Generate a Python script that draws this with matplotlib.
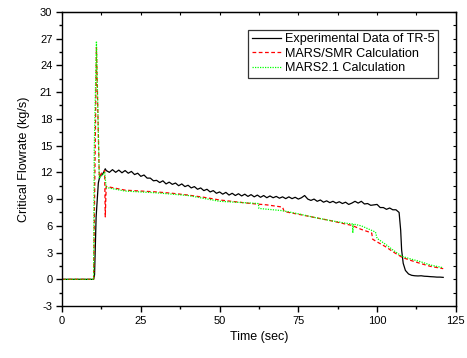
import matplotlib
matplotlib.use("Agg")
import matplotlib.pyplot as plt
from matplotlib.ticker import MultipleLocator

plt.rcParams['font.family'] = ['Liberation Sans', 'DejaVu Sans']
plt.rcParams['axes.unicode_minus'] = False

# Experimental data of TR-5 (time in s, flowrate in kg/s)
exp_time = [0, 10, 10.3, 10.8, 11.5, 12, 12.6, 13.2, 13.7,
            14, 15, 16, 17, 18, 19, 20, 21, 22, 23, 24, 25, 26, 27, 28, 29,
            30, 31, 32, 33, 34, 35, 36, 37, 38, 39, 40, 41, 42, 43, 44, 45,
            46, 47, 48, 49, 50, 51, 52, 53, 54, 55, 56, 57, 58, 59, 60, 61,
            62, 63, 64, 65, 66, 67, 68, 69, 70, 71, 72, 73, 74, 75, 76, 77,
            78, 79, 80, 81, 82, 83, 84, 85, 86, 87, 88, 89, 90, 91, 92, 93,
            94, 95, 96, 97, 98, 99, 100, 101, 102, 103, 104, 105, 106, 107,
            107.5, 107.8, 108.3, 109, 110, 111, 112, 113, 114, 115, 116, 117,
            118, 119, 120, 121]
exp_flow = [0, 0, 0.5, 7.0, 10.8, 11.6, 11.7, 12.0, 12.4,
            12.2, 12.0, 12.3, 12.0, 12.25, 11.95, 12.2, 11.9, 12.1, 11.75, 11.9, 11.55, 11.7, 11.35, 11.35, 11.05,
            11.1, 10.85, 11.05, 10.7, 10.9, 10.65, 10.8, 10.5, 10.7, 10.4, 10.55, 10.25, 10.4, 10.1, 10.25, 9.95,
            10.1, 9.8, 9.95, 9.65, 9.8, 9.55, 9.75, 9.45, 9.65, 9.4, 9.6, 9.35, 9.55, 9.3, 9.5, 9.25,
            9.45, 9.2, 9.4, 9.15, 9.35, 9.15, 9.3, 9.1, 9.25, 9.05, 9.25, 9.05, 9.2, 9.0, 9.15, 9.4,
            9.0, 8.85, 9.0, 8.75, 8.9, 8.65, 8.8, 8.6, 8.75, 8.55, 8.7, 8.5, 8.65, 8.4, 8.55, 8.75,
            8.55, 8.75, 8.45, 8.5, 8.3, 8.35, 8.4, 8.05, 8.05, 7.85, 8.0, 7.8, 7.8, 7.5,
            5.5, 3.3, 1.8, 1.0, 0.6, 0.45, 0.4, 0.38, 0.4, 0.35, 0.33, 0.3,
            0.28, 0.25, 0.25, 0.22]

# MARS/SMR calculation
smr_time = [0, 10, 10.9, 11.8, 12.5, 13.5, 13.7, 14.0, 15, 20, 25, 30, 35, 40,
            45, 50, 55, 60, 65, 70, 70.5, 75, 80, 85, 90, 92, 95, 98.3, 98.6,
            100, 103, 105, 107.8, 110, 113.6, 117, 121]
smr_flow = [0, 0, 26.0, 11.5, 11.9, 12.2, 7.0, 10.4, 10.35, 10.0, 9.9, 9.8, 9.65, 9.45,
            9.2, 8.9, 8.7, 8.5, 8.35, 8.1, 7.6, 7.3, 6.95, 6.6, 6.2, 6.05, 5.6, 5.2, 4.5,
            4.2, 3.6, 3.1, 2.5, 2.2, 1.8, 1.45, 1.2]

# MARS2.1 calculation
m21_time = [0, 10, 10.2, 10.9, 11.8, 13.5, 14.0, 20, 30, 40, 50, 60, 62.3, 62.5,
            70, 75, 80, 85, 90, 92.2, 92.3, 92.5, 95, 99.5, 100, 103, 105, 107.8,
            110, 113.6, 117, 121]
m21_flow = [0, 0, 14.5, 26.7, 11.3, 12.0, 10.3, 9.9, 9.7, 9.4, 8.75, 8.55, 8.5, 7.95,
            7.7, 7.35, 6.95, 6.6, 6.3, 6.2, 5.2, 6.2, 6.0, 5.3, 4.6, 3.85, 3.3, 2.6,
            2.35, 2.0, 1.6, 1.3]

fig = plt.figure(figsize=(4.67, 3.58), dpi=100)
ax = fig.add_axes([0.133, 0.145, 0.843, 0.822])

ax.plot(exp_time, exp_flow, color='black', lw=0.9, label='Experimental Data of TR-5')
ax.plot(smr_time, smr_flow, color='red', lw=0.9, ls=(0, (3, 2)), label='MARS/SMR Calculation')
ax.plot(m21_time, m21_flow, color='#00ff00', lw=0.9, ls=(0, (1, 1)), label='MARS2.1 Calculation')

ax.set_xlim(0, 125)
ax.set_ylim(-3, 30)
ax.xaxis.set_major_locator(MultipleLocator(25))
ax.xaxis.set_minor_locator(MultipleLocator(12.5))
ax.yaxis.set_major_locator(MultipleLocator(3))
ax.yaxis.set_minor_locator(MultipleLocator(1.5))
ax.tick_params(which='major', direction='out', length=4, width=1, labelsize=8, pad=3)
ax.tick_params(which='minor', direction='out', length=2.5, width=1)
for s in ax.spines.values():
    s.set_linewidth(1.0)

top = ax.secondary_xaxis('top')
top.xaxis.set_major_locator(MultipleLocator(12.5))
top.tick_params(direction='in', length=2.5, width=0.8, labeltop=False)
right = ax.secondary_yaxis('right')
right.yaxis.set_major_locator(MultipleLocator(1.5))
right.tick_params(direction='in', length=2.5, width=0.8, labelright=False)

ax.set_xlabel('Time (sec)', fontsize=9, labelpad=4)
ax.set_ylabel('Critical Flowrate (kg/s)', fontsize=9, labelpad=7)

leg = ax.legend(loc='upper right', fontsize=9.1, frameon=True, fancybox=False,
                edgecolor='black', handlelength=2.3, borderaxespad=1.4,
                labelspacing=0.2, borderpad=0.3, handletextpad=0.3)
leg.get_frame().set_linewidth(0.9)

fig.savefig('out.png', dpi=100)
